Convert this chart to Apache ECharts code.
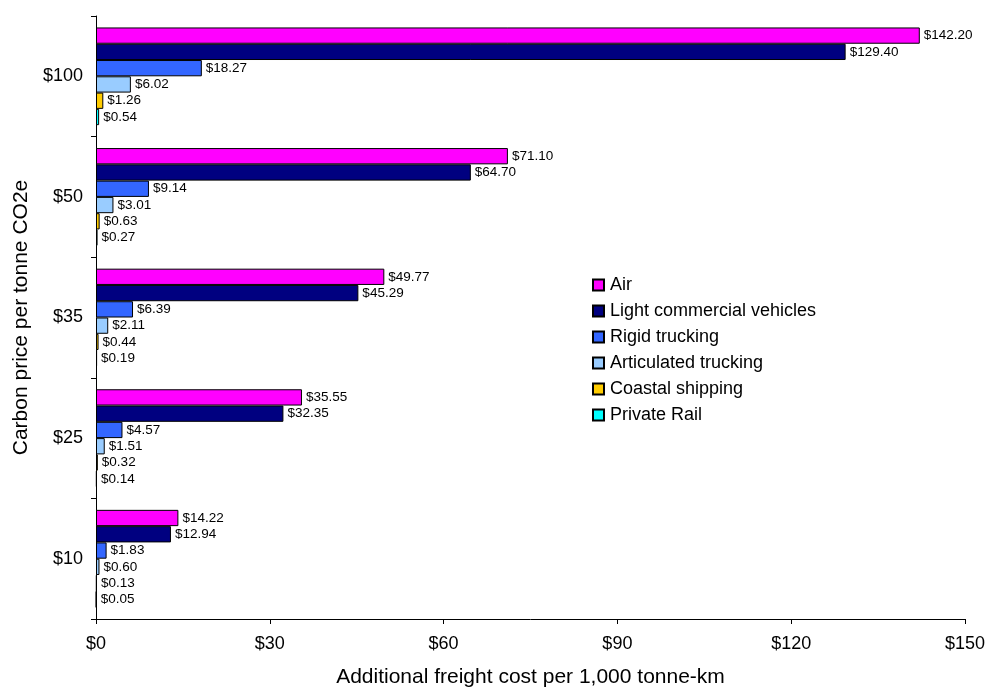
<!DOCTYPE html>
<html><head><meta charset="utf-8">
<script src="https://cdn.jsdelivr.net/npm/echarts@6/dist/echarts.min.js"></script>
<style>html,body{margin:0;padding:0;background:#fff}#c{width:988px;height:693px}</style>
</head><body><div id="c"></div>
<script>
const categories = ['$100', '$50', '$35', '$25', '$10'];
const seriesNames = ['Air', 'Light commercial vehicles', 'Rigid trucking', 'Articulated trucking', 'Coastal shipping', 'Private Rail'];
const air = [142.20, 71.10, 49.77, 35.55, 14.22];
const lightCommercial = [129.40, 64.70, 45.29, 32.35, 12.94];
const rigid = [18.27, 9.14, 6.39, 4.57, 1.83];
const articulated = [6.02, 3.01, 2.11, 1.51, 0.60];
const coastal = [1.26, 0.63, 0.44, 0.32, 0.13];
const rail = [0.54, 0.27, 0.19, 0.14, 0.05];
const xTicks = [0, 30, 60, 90, 120, 150];
const colors = ['#FF00FF', '#000080', '#3366FF', '#99CCFF', '#FFCC00', '#00FFFF'];
const allData = [air, lightCommercial, rigid, articulated, coastal, rail];
const font = 'Liberation Sans, Arial, sans-serif';

const chart = echarts.init(document.getElementById('c'));
chart.setOption({
  animation: false,
  textStyle: { fontFamily: font },
  grid: { left: 96, right: 23, top: 16, bottom: 70 },
  legend: {
    orient: 'vertical', left: 587, top: 271,
    itemWidth: 11, itemHeight: 11, itemGap: 8,
    icon: 'rect',
    textStyle: { fontSize: 18, color: '#000', fontFamily: font, padding: [0, 0, 0, 1] },
    data: seriesNames
  },
  xAxis: {
    type: 'value', min: xTicks[0], max: xTicks[xTicks.length - 1], interval: 30,
    name: 'Additional freight cost per 1,000 tonne-km', nameLocation: 'middle', nameGap: 48,
    nameTextStyle: { fontSize: 21, color: '#000', fontFamily: font },
    axisLine: { show: true, lineStyle: { color: '#000' } },
    axisTick: { show: true, length: 5, lineStyle: { color: '#000' } },
    axisLabel: { fontSize: 18, color: '#000', margin: 16, formatter: v => '$' + v },
    splitLine: { show: false }
  },
  yAxis: {
    type: 'category', inverse: true, data: categories,
    name: 'Carbon price per tonne CO2e', nameLocation: 'middle', nameGap: 63, nameRotate: 90,
    nameTextStyle: { fontSize: 21, color: '#000', fontFamily: font },
    axisLine: { show: true, lineStyle: { color: '#000' } },
    axisTick: { show: true, length: 5, lineStyle: { color: '#000' } },
    axisLabel: { fontSize: 18, color: '#000', margin: 13 },
    splitLine: { show: false }
  },
  series: seriesNames.map((n, i) => ({
    name: n, type: 'bar', data: allData[i],
    barCategoryGap: '19%', barGap: '0%',
    itemStyle: { color: colors[i], borderColor: '#000', borderWidth: 1 },
    label: {
      show: true, position: 'right', distance: 4, fontSize: 13.5, color: '#000', fontFamily: font,
      formatter: p => '$' + p.value.toFixed(2)
    }
  }))
});
</script></body></html>
